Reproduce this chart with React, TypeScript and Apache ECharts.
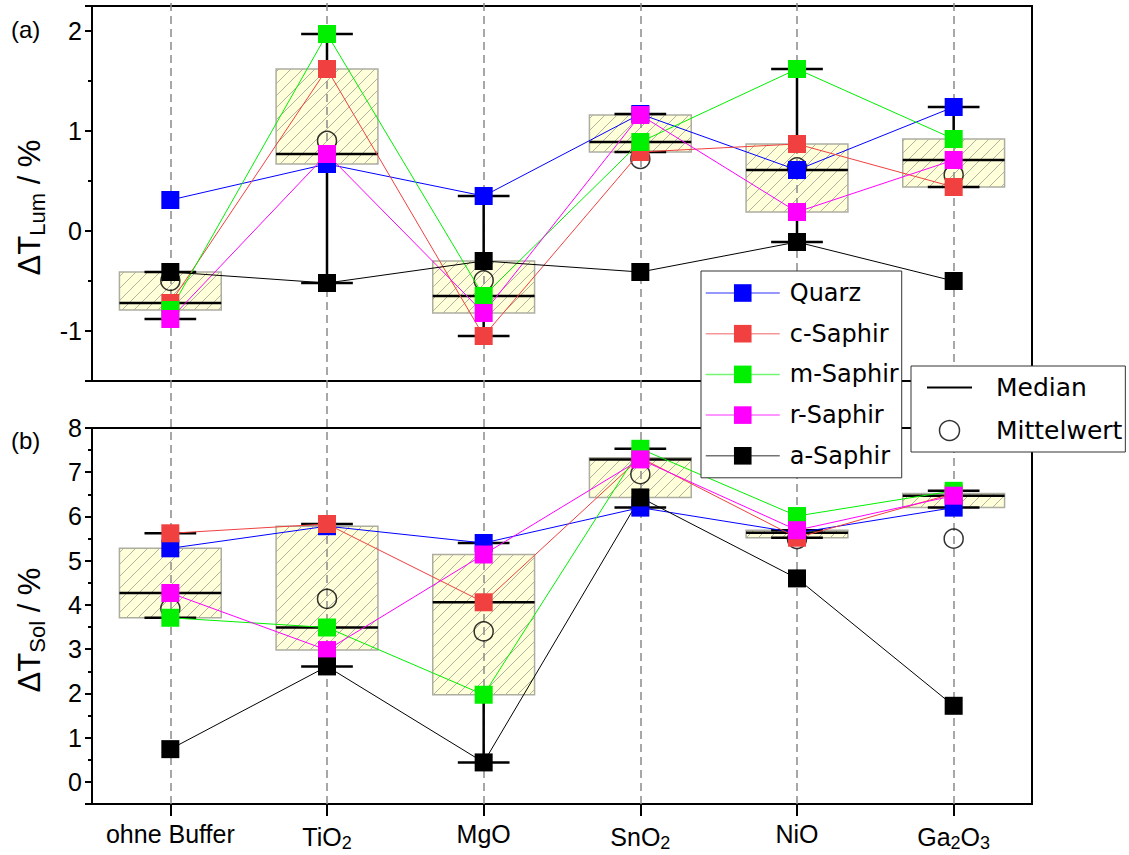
import React, { useEffect, useRef } from "react";
import * as echarts from "echarts";

// Buffer layers on the x axis (digits are rendered as subscripts)
const categories = ["ohne Buffer", "TiO2", "MgO", "SnO2", "NiO", "Ga2O3"];
const substrates = ["Quarz", "c-Saphir", "m-Saphir", "r-Saphir", "a-Saphir"];

// ΔT_Lum / % per substrate
const lumQuarz = [0.31, 0.67, 0.35, 1.17, 0.61, 1.24];
const lumCSaphir = [-0.72, 1.62, -1.05, 0.79, 0.87, 0.44];
const lumMSaphir = [-0.79, 1.97, -0.65, 0.89, 1.62, 0.92];
const lumRSaphir = [-0.88, 0.77, -0.82, 1.16, 0.19, 0.71];
const lumASaphir = [-0.41, -0.52, -0.3, -0.41, -0.11, -0.5];

// ΔT_Sol / % per substrate
const solQuarz = [5.28, 5.78, 5.4, 6.2, 5.63, 6.2];
const solCSaphir = [5.62, 5.83, 4.06, 7.33, 5.52, 6.52];
const solMSaphir = [3.71, 3.49, 1.97, 7.53, 6.01, 6.58];
const solRSaphir = [4.27, 2.98, 5.14, 7.29, 5.69, 6.47];
const solASaphir = [0.74, 2.61, 0.44, 6.43, 4.6, 1.72];

// value axis ranges
const lumRange = [-1.5, 2.25];
const solRange = [-0.5, 8];

const lumValues = [lumQuarz, lumCSaphir, lumMSaphir, lumRSaphir, lumASaphir];
const solValues = [solQuarz, solCSaphir, solMSaphir, solRSaphir, solASaphir];

const substrateColors = ["#0000FF", "#F04040", "#00F000", "#FF00FF", "#000000"];
const LABEL_FONT = "Liberation Sans";
const LEGEND_FONT = "DejaVu Sans";

function quantile(sorted: number[], p: number) {
  const h = (sorted.length - 1) * p;
  const lo = Math.floor(h);
  const e = h - lo;
  return e ? sorted[lo] + e * (sorted[lo + 1] - sorted[lo]) : sorted[lo];
}

// box statistics: quartiles, 1.5 IQR whiskers, mean
function summarize(values: number[]) {
  const s = [...values].sort((a, b) => a - b);
  const q1 = quantile(s, 0.25);
  const med = quantile(s, 0.5);
  const q3 = quantile(s, 0.75);
  const iqr = q3 - q1;
  const inner = s.filter((v) => v >= q1 - 1.5 * iqr && v <= q3 + 1.5 * iqr);
  const mean = s.reduce((a, b) => a + b, 0) / s.length;
  return { lo: inner[0], q1, med, q3, hi: inner[inner.length - 1], mean };
}

function panelStats(series: number[][]) {
  return categories.map((_, i) => summarize(series.map((s) => s[i])));
}

function boxGeometry(api: any) {
  const i = api.value(0);
  const band = api.size([1, 0])[0];
  const at = (v: number) => api.coord([i, v]);
  const cx = at(api.value(3))[0];
  const yQ1 = at(api.value(2))[1];
  const yQ3 = at(api.value(4))[1];
  return {
    cx,
    boxW: band * 0.65,
    capW: band * 0.33,
    yLo: at(api.value(1))[1],
    yMed: at(api.value(3))[1],
    yHi: at(api.value(5))[1],
    top: Math.min(yQ1, yQ3),
    bot: Math.max(yQ1, yQ3),
  };
}

// hatched interquartile box
const renderBoxBody = (_params: any, api: any) => {
  const g = boxGeometry(api);
  const x0 = g.cx - g.boxW / 2;
  const x1 = g.cx + g.boxW / 2;
  const children: any[] = [
    {
      type: "rect",
      shape: { x: x0, y: g.top, width: g.boxW, height: g.bot - g.top },
      style: { fill: "#FFFFD9", stroke: "none" },
    },
  ];
  const step = 12;
  for (let c = Math.ceil((x0 + g.top) / step) * step; c < x1 + g.bot; c += step) {
    const xa = Math.max(x0, c - g.bot);
    const xb = Math.min(x1, c - g.top);
    if (xb - xa < 0.5) continue;
    children.push({
      type: "line",
      shape: { x1: xa, y1: c - xa, x2: xb, y2: c - xb },
      style: { stroke: "#B2B2A2", lineWidth: 1 },
    });
  }
  children.push({
    type: "rect",
    shape: { x: x0, y: g.top, width: g.boxW, height: g.bot - g.top },
    style: { fill: "none", stroke: "#ADADA2", lineWidth: 1.5 },
  });
  return { type: "group", children };
};

// whiskers, caps and median line
const renderWhiskers = (_params: any, api: any) => {
  const g = boxGeometry(api);
  const black = { stroke: "#000", lineWidth: 2.5 };
  const children: any[] = [];
  if (g.yHi < g.top) {
    children.push({ type: "line", shape: { x1: g.cx, y1: g.top, x2: g.cx, y2: g.yHi }, style: black });
  }
  if (g.yLo > g.bot) {
    children.push({ type: "line", shape: { x1: g.cx, y1: g.bot, x2: g.cx, y2: g.yLo }, style: black });
  }
  children.push({ type: "line", shape: { x1: g.cx - g.capW / 2, y1: g.yHi, x2: g.cx + g.capW / 2, y2: g.yHi }, style: black });
  children.push({ type: "line", shape: { x1: g.cx - g.capW / 2, y1: g.yLo, x2: g.cx + g.capW / 2, y2: g.yLo }, style: black });
  children.push({ type: "line", shape: { x1: g.cx - g.boxW / 2, y1: g.yMed, x2: g.cx + g.boxW / 2, y2: g.yMed }, style: black });
  return { type: "group", children };
};

function panelSeries(series: number[][], gridIndex: number) {
  const stats = panelStats(series);
  const boxData = stats.map((s, i) => [i, s.lo, s.q1, s.med, s.q3, s.hi]);
  const out: any[] = [
    {
      type: "custom",
      name: "box",
      xAxisIndex: gridIndex,
      yAxisIndex: gridIndex,
      renderItem: renderBoxBody,
      data: boxData,
      encode: { x: 0, y: [1, 2, 3, 4, 5] },
      silent: true,
      clip: false,
      z: 1,
    },
    {
      type: "custom",
      name: "Median",
      xAxisIndex: gridIndex,
      yAxisIndex: gridIndex,
      renderItem: renderWhiskers,
      data: boxData,
      encode: { x: 0, y: [1, 2, 3, 4, 5] },
      itemStyle: { color: "#000" },
      silent: true,
      clip: false,
      z: 3,
    },
    {
      type: "scatter",
      name: "Mittelwert",
      xAxisIndex: gridIndex,
      yAxisIndex: gridIndex,
      data: stats.map((s, i) => [i, s.mean]),
      symbol: "circle",
      symbolSize: 19,
      itemStyle: { color: "rgba(255,255,255,0)", borderColor: "#000", borderWidth: 1.5 },
      silent: true,
      z: 3,
    },
  ];
  substrates.forEach((name, k) => {
    out.push({
      type: "line",
      name,
      xAxisIndex: gridIndex,
      yAxisIndex: gridIndex,
      data: series[k],
      symbol: "rect",
      symbolSize: 18,
      showSymbol: true,
      lineStyle: { width: 1, color: substrateColors[k] },
      itemStyle: { color: substrateColors[k] },
      emphasis: { disabled: true },
      silent: true,
      z: 4,
    });
  });
  return out;
}

const subscript = (v: string) => v.replace(/(\d)/g, "{s|$1}");

function valueAxis(gridIndex: number, range: number[], sub: string, splitNumber: number, hideMax: boolean) {
  return {
    type: "value",
    gridIndex,
    min: range[0],
    max: range[1],
    splitNumber,
    name: `{m|ΔT}{s|${sub}}{m| / %}`,
    nameLocation: "middle",
    nameGap: 44,
    nameRotate: 90,
    nameTextStyle: {
      color: "#000",
      fontFamily: LABEL_FONT,
      padding: [0, 28, 0, 0],
      rich: {
        m: { fontSize: 31, fontFamily: LABEL_FONT, color: "#000" },
        s: { fontSize: 22, fontFamily: LABEL_FONT, color: "#000", padding: [16, 0, 0, 0] },
      },
    },
    axisLine: { show: true, onZero: false, lineStyle: { color: "#000", width: 2 } },
    axisTick: { show: true, length: 7, lineStyle: { color: "#000", width: 2 } },
    minorTick: { show: true, splitNumber: 2, length: 4, lineStyle: { color: "#000", width: 2 } },
    splitLine: { show: false },
    minorSplitLine: { show: false },
    axisLabel: {
      fontSize: 25,
      fontFamily: LABEL_FONT,
      color: "#000",
      margin: 10,
      showMinLabel: false,
      showMaxLabel: !hideMax,
    },
  };
}

function buildOption() {
  const gridBase = { left: 92, width: 940, show: true, borderColor: "#000", borderWidth: 2, backgroundColor: "transparent", outerBoundsMode: "none" };
  const panelLabel = { fontSize: 24, fontWeight: "normal", fontFamily: LABEL_FONT, color: "#000" };
  return {
    animation: false,
    textStyle: { fontFamily: LABEL_FONT, color: "#000" },
    title: [
      { text: "(a)", left: 11, top: 17, padding: 0, textStyle: panelLabel },
      { text: "(b)", left: 11, top: 428, padding: 0, textStyle: panelLabel },
    ],
    grid: [
      { ...gridBase, top: 6, height: 375 },
      { ...gridBase, top: 428, height: 376 },
      { left: 92, width: 940, top: 0, height: 804, show: false, outerBoundsMode: "none" },
    ],
    xAxis: [
      {
        type: "category",
        gridIndex: 0,
        data: categories,
        boundaryGap: true,
        axisLine: { show: true, onZero: false, lineStyle: { color: "#000", width: 2 } },
        axisTick: { show: false },
        axisLabel: { show: false },
        splitLine: { show: false },
      },
      {
        type: "category",
        gridIndex: 1,
        data: categories,
        boundaryGap: true,
        axisLine: { show: true, onZero: false, lineStyle: { color: "#000", width: 2 } },
        axisTick: { show: true, alignWithLabel: true, length: 12, lineStyle: { color: "#000", width: 2 } },
        axisLabel: {
          fontSize: 25,
          fontFamily: LABEL_FONT,
          color: "#000",
          margin: 17,
          interval: 0,
          formatter: (v: string) => subscript(v),
          rich: { s: { fontSize: 18, fontFamily: LABEL_FONT, color: "#000", padding: [13, 0, 0, 0] } },
        },
        splitLine: { show: false },
      },
      { type: "category", gridIndex: 2, data: categories, boundaryGap: true, show: false },
    ],
    yAxis: [
      valueAxis(0, lumRange, "Lum", 5, true),
      valueAxis(1, solRange, "Sol", 8, false),
      { type: "value", gridIndex: 2, min: 0, max: 1, show: false },
    ],
    legend: [
      {
        data: substrates,
        orient: "vertical",
        left: 701,
        top: 271,
        itemWidth: 74,
        itemHeight: 22,
        itemGap: 16.7,
        padding: [10, 3, 10, 4],
        backgroundColor: "#fff",
        borderColor: "#333",
        borderWidth: 1,
        borderRadius: 0,
        selectedMode: false,
        z: 20,
        lineStyle: { width: 1.5, opacity: 0.55 },
        textStyle: { fontFamily: LEGEND_FONT, fontSize: 24, color: "#000", padding: [0, 0, 0, 5] },
      },
      {
        data: [
          { name: "Median", icon: "path://M0,0L45,0L45,2L0,2Z" },
          {
            name: "Mittelwert",
            icon: "circle",
            itemStyle: { color: "rgba(255,255,255,0)", borderColor: "#000", borderWidth: 1.5 },
          },
        ],
        orient: "vertical",
        left: 911,
        top: 366,
        itemWidth: 45,
        itemHeight: 20,
        itemGap: 18,
        padding: [9, 3, 9, 16],
        backgroundColor: "#fff",
        borderColor: "#333",
        borderWidth: 1,
        borderRadius: 0,
        selectedMode: false,
        z: 20,
        textStyle: { fontFamily: LEGEND_FONT, fontSize: 25, color: "#000", padding: [0, 0, 0, 19] },
      },
    ],
    series: [
      ...panelSeries(lumValues, 0),
      ...panelSeries(solValues, 1),
      {
        type: "line",
        xAxisIndex: 2,
        yAxisIndex: 2,
        data: [],
        silent: true,
        z: 2,
        markLine: {
          z: 2,
          symbol: "none",
          silent: true,
          animation: false,
          label: { show: false },
          lineStyle: { type: [8, 5], color: "#8A8A8A", width: 1.5 },
          data: categories.map((c) => ({ xAxis: c })),
        },
      },
    ],
  };
}

export default function App() {
  const ref = useRef<HTMLDivElement>(null);
  useEffect(() => {
    if (!ref.current) return;
    const chart = echarts.init(ref.current, undefined, { renderer: "svg" });
    chart.setOption(buildOption() as any);
    return () => chart.dispose();
  }, []);
  return (
    <div
      ref={ref}
      style={{ position: "fixed", left: 0, top: 0, width: 1129, height: 855, background: "#fff" }}
    />
  );
}
